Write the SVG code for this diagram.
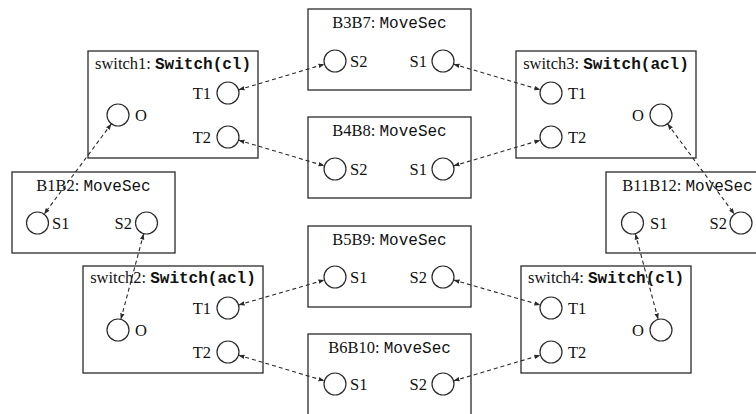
<svg xmlns="http://www.w3.org/2000/svg" width="756" height="414" viewBox="0 0 756 414">
<style>
.box{fill:#fff;stroke:#2a2a2a;stroke-width:1.3}
.port{fill:none;stroke:#2a2a2a;stroke-width:1.2}
text{font-family:"Liberation Serif",serif;font-size:16.5px;fill:#111}
.tt{font-family:"Liberation Mono",monospace;font-size:16px}
.ttb{font-family:"Liberation Mono",monospace;font-size:16px;font-weight:bold}
.mid{text-anchor:middle}
.end{text-anchor:end}
.conn{fill:none;stroke:#2a2a2a;stroke-width:1.1;stroke-dasharray:4 3;marker-start:url(#ah);marker-end:url(#ah)}
</style>
<defs>
<marker id="ah" markerUnits="userSpaceOnUse" markerWidth="6" markerHeight="6" viewBox="0 0 6 6" refX="6" refY="3" orient="auto-start-reverse">
<path d="M0,0.8 L6,3 L0,5.2 z" fill="#2a2a2a"/>
</marker>
</defs>

<g id="B3B7">
<rect class="box" x="308" y="9" width="163" height="81"/>
<text class="mid" x="389.5" y="28">B3B7: <tspan class="tt">MoveSec</tspan></text>
<circle class="port" cx="335" cy="61" r="11"/><text x="350" y="67">S2</text>
<circle class="port" cx="443" cy="61" r="11"/><text class="end" x="427" y="67">S1</text>
</g>
<g id="B4B8">
<rect class="box" x="308" y="117" width="163" height="81"/>
<text class="mid" x="389.5" y="136">B4B8: <tspan class="tt">MoveSec</tspan></text>
<circle class="port" cx="335" cy="169" r="11"/><text x="350" y="175">S2</text>
<circle class="port" cx="443" cy="169" r="11"/><text class="end" x="427" y="175">S1</text>
</g>
<g id="B5B9">
<rect class="box" x="308" y="226" width="163" height="81"/>
<text class="mid" x="389.5" y="245">B5B9: <tspan class="tt">MoveSec</tspan></text>
<circle class="port" cx="335" cy="277" r="11"/><text x="350" y="283">S1</text>
<circle class="port" cx="443" cy="277" r="11"/><text class="end" x="427" y="283">S2</text>
</g>
<g id="B6B10">
<rect class="box" x="308" y="334" width="163" height="82"/>
<text class="mid" x="389.5" y="353">B6B10: <tspan class="tt">MoveSec</tspan></text>
<circle class="port" cx="335" cy="384" r="11"/><text x="350" y="390">S1</text>
<circle class="port" cx="443" cy="384" r="11"/><text class="end" x="427" y="390">S2</text>
</g>
<g id="B1B2">
<rect class="box" x="12" y="172" width="163" height="81"/>
<text class="mid" x="93.5" y="191">B1B2: <tspan class="tt">MoveSec</tspan></text>
<circle class="port" cx="37.5" cy="223" r="11"/><text x="52" y="229">S1</text>
<circle class="port" cx="146.5" cy="223" r="11"/><text class="end" x="132" y="229">S2</text>
</g>
<g id="B11B12">
<rect class="box" x="606" y="172" width="163" height="81"/>
<text class="mid" x="687.5" y="191">B11B12: <tspan class="tt">MoveSec</tspan></text>
<circle class="port" cx="632.5" cy="223" r="11"/><text x="650" y="229">S1</text>
<circle class="port" cx="741" cy="223" r="11"/><text class="end" x="727" y="229">S2</text>
</g>
<g id="switch1">
<rect class="box" x="88" y="51" width="170" height="107"/>
<text class="mid" x="173" y="69">switch1: <tspan class="ttb">Switch(cl)</tspan></text>
<circle class="port" cx="228" cy="93" r="11"/><text class="end" x="211" y="99">T1</text>
<circle class="port" cx="228" cy="137" r="11"/><text class="end" x="211" y="143">T2</text>
<circle class="port" cx="118" cy="115" r="11"/><text x="135" y="121">O</text>
</g>
<g id="switch3">
<rect class="box" x="516" y="51" width="180" height="107"/>
<text class="mid" x="606" y="69">switch3: <tspan class="ttb">Switch(acl)</tspan></text>
<circle class="port" cx="551" cy="93" r="11"/><text x="568" y="99">T1</text>
<circle class="port" cx="551" cy="137" r="11"/><text x="568" y="143">T2</text>
<circle class="port" cx="661" cy="115" r="11"/><text class="end" x="644" y="121">O</text>
</g>
<g id="switch2">
<rect class="box" x="83" y="266" width="180" height="107"/>
<text class="mid" x="173" y="283">switch2: <tspan class="ttb">Switch(acl)</tspan></text>
<circle class="port" cx="228" cy="308" r="11"/><text class="end" x="211" y="314">T1</text>
<circle class="port" cx="228" cy="352" r="11"/><text class="end" x="211" y="358">T2</text>
<circle class="port" cx="118" cy="330" r="11"/><text x="135" y="336">O</text>
</g>
<g id="switch4">
<rect class="box" x="521" y="266" width="170" height="107"/>
<text class="mid" x="606" y="283">switch4: <tspan class="ttb">Switch(cl)</tspan></text>
<circle class="port" cx="551" cy="308" r="11"/><text x="568" y="314">T1</text>
<circle class="port" cx="551" cy="352" r="11"/><text x="568" y="358">T2</text>
<circle class="port" cx="661" cy="330" r="11"/><text class="end" x="644" y="336">O</text>
</g>

<g id="connectors">
<line class="conn" x1="238.54" y1="89.85" x2="324.46" y2="64.15"/>
<line class="conn" x1="238.54" y1="140.15" x2="324.46" y2="165.85"/>
<line class="conn" x1="111.43" y1="123.82" x2="44.07" y2="214.18"/>
<line class="conn" x1="453.55" y1="64.13" x2="540.45" y2="89.87"/>
<line class="conn" x1="453.55" y1="165.87" x2="540.45" y2="140.13"/>
<line class="conn" x1="667.55" y1="123.84" x2="734.45" y2="214.16"/>
<line class="conn" x1="143.67" y1="233.63" x2="120.83" y2="319.37"/>
<line class="conn" x1="238.57" y1="304.94" x2="324.43" y2="280.06"/>
<line class="conn" x1="238.54" y1="355.15" x2="324.46" y2="380.85"/>
<line class="conn" x1="453.57" y1="280.03" x2="540.43" y2="304.97"/>
<line class="conn" x1="453.55" y1="380.87" x2="540.45" y2="355.13"/>
<line class="conn" x1="635.33" y1="233.63" x2="658.17" y2="319.37"/>
</g>
</svg>
